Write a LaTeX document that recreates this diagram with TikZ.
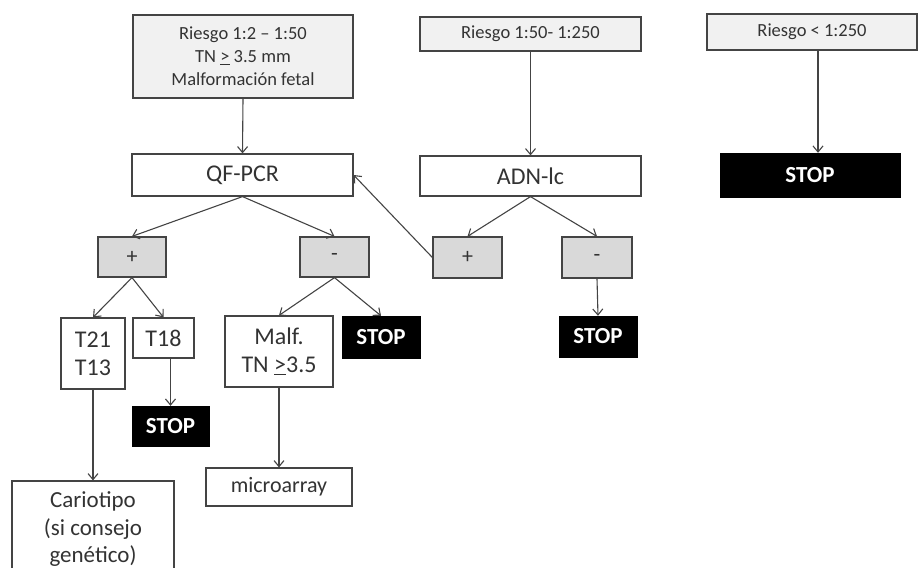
\documentclass[tikz,border=0pt]{standalone}
\usepackage{fontspec}
\setmainfont{Carlito}
\usetikzlibrary{arrows.meta}
\definecolor{ink}{HTML}{333333}
\definecolor{edge}{HTML}{444444}
\definecolor{paleg}{HTML}{F1F1F1}
\definecolor{midg}{HTML}{D9D9D9}
\begin{document}
\begin{tikzpicture}[x=1pt,y=-1pt,
  box/.style={draw=edge, line width=1.2pt, text=ink, inner sep=0pt, align=center, fill=white},
  riskbox/.style={box, fill=paleg, font=\fontsize{18.5}{23}\selectfont},
  signbox/.style={box, fill=midg, font=\fontsize{22}{24}\selectfont},
  testbox/.style={box, font=\fontsize{24}{28}\selectfont},
  outbox/.style={box, font=\fontsize{24}{28}\selectfont},
  stopbox/.style={draw=black, fill=black, text=white, inner sep=0pt, font=\fontsize{23}{26}\selectfont\bfseries},
  arr/.style={draw=edge, line width=1.1pt, -{Straight Barb[length=6pt,width=10pt]}}
]
\useasboundingbox (0,0) rectangle (919,568);
\clip (0,0) rectangle (919,568);

% risk groups
\node[riskbox, minimum width=220pt, minimum height=83pt] (r1) at (243,56.5)
  {Riesgo 1:2 – 1:50\\TN \underline{>} 3.5 mm\\Malformación fetal};
\node[riskbox, minimum width=221pt, minimum height=34pt] (r2) at (530.5,34) {Riesgo 1:50- 1:250};
\node[riskbox, minimum width=210pt, minimum height=36pt] (r3) at (812,32) {Riesgo < 1:250};
\node[stopbox, minimum width=180pt, minimum height=44pt] (s3) at (810,175) {STOP};

% first-line tests
\node[testbox, minimum width=221pt, minimum height=42pt] (qf) at (242.5,175) {QF-PCR};
\node[testbox, minimum width=221pt, minimum height=40pt] (adn) at (530.5,176) {ADN-lc};

% results
\node[signbox, minimum width=68pt, minimum height=40pt] (qp) at (132,257) {+};
\node[signbox, minimum width=69pt, minimum height=40pt] (qm) at (334.5,257) {-};
\node[signbox, minimum width=69pt, minimum height=41pt] (ap) at (467.5,257.5) {+};
\node[signbox, minimum width=70pt, minimum height=41pt] (am) at (597,257.5) {-};
\node[stopbox, minimum width=78pt, minimum height=41pt] (sa) at (598,336.5) {STOP};

% follow-up
\node[outbox, minimum width=64pt, minimum height=71pt] (t21) at (93,353.5) {T21\\T13};
\node[outbox, minimum width=61pt, minimum height=40pt] (t18) at (163.5,338) {T18};
\node[stopbox, minimum width=77pt, minimum height=40pt] (st) at (170.5,426) {STOP};
\node[outbox, minimum width=108pt, minimum height=71pt] (mf) at (279,351.5) {Malf.\\TN \underline{>}3.5};
\node[stopbox, minimum width=78pt, minimum height=42pt] (sm) at (381,337) {STOP};
\node[outbox, font=\fontsize{22}{26}\selectfont, minimum width=146pt, minimum height=38pt] (mi) at (279,487) {microarray};
\node[outbox, font=\fontsize{23}{27.5}\selectfont, minimum width=162pt, minimum height=97pt] (ca) at (93,529.5)
  {Cariotipo\\(si consejo\\genético)};

% connectors
\draw[arr] (r1.south) -- (qf.north);
\draw[arr] (r2.south) -- (adn.north);
\draw[arr] ([xshift=6pt]r3.south) -- ([xshift=8pt]s3.north);
\draw[arr] (qf.south) -- (qp.north);
\draw[arr] (qf.south) -- (qm.north);
\draw[arr] (adn.south) -- (ap.north);
\draw[arr] (adn.south) -- (am.north);
\draw[arr] (ap.west) -- (qf.east);
\draw[arr] (am.south) -- (sa.north);
\draw[arr] (qp.south) -- (t21.north);
\draw[arr] (qp.south) -- (t18.north);
\draw[arr] (t18.south -| st.north) -- (st.north);
\draw[arr] (qm.south) -- (mf.north);
\draw[arr] (qm.south) -- (sm.north);
\draw[arr] (t21.south) -- (ca.north);
\draw[arr] (mf.south) -- (mi.north);
\end{tikzpicture}
\end{document}
